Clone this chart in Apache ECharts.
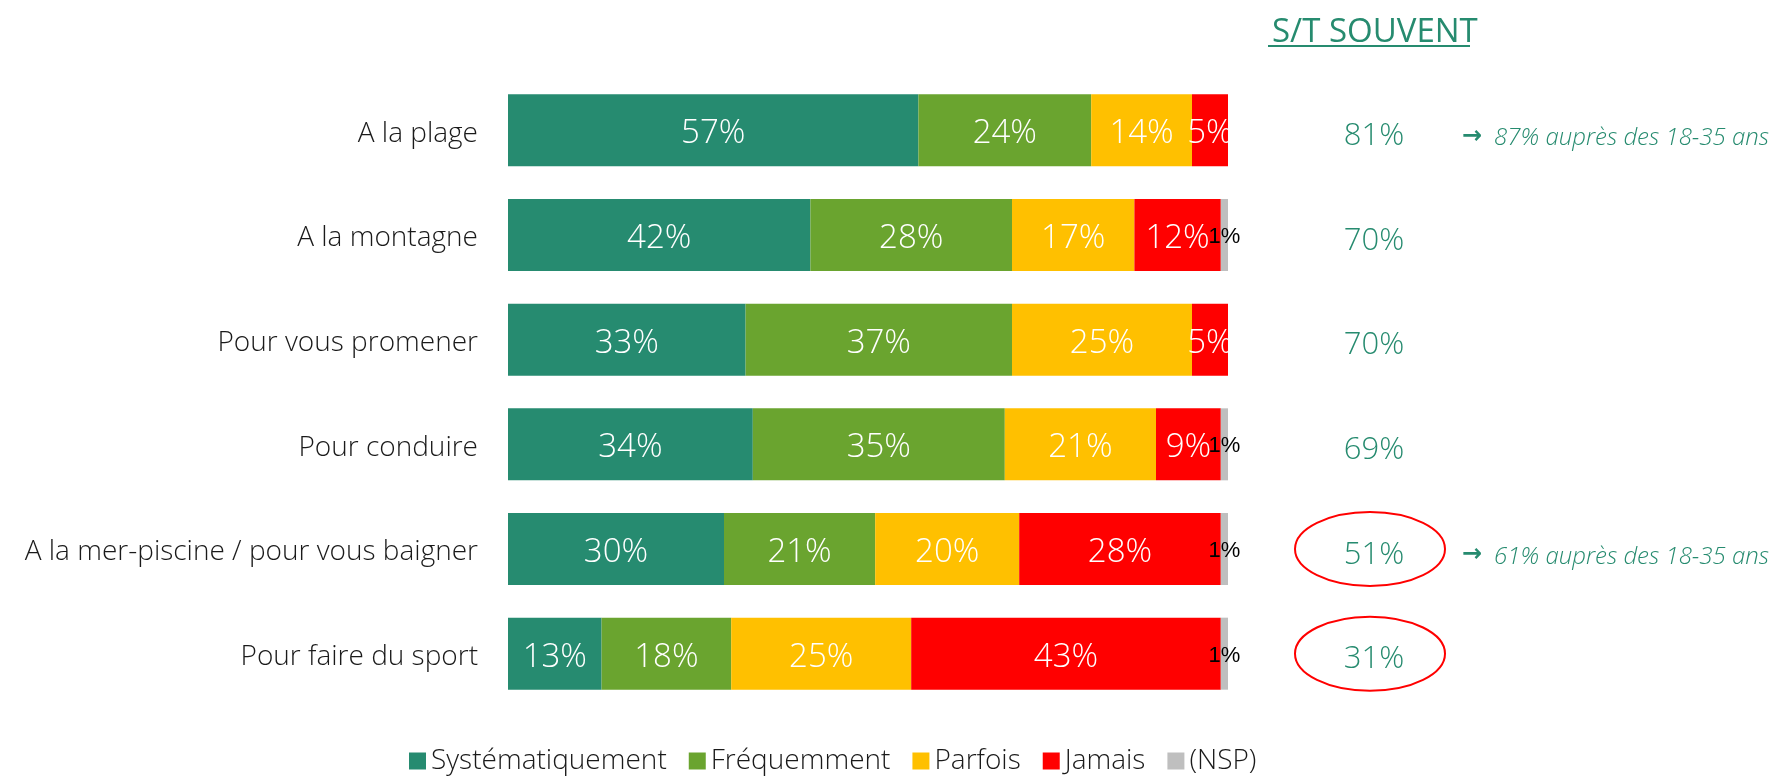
<!DOCTYPE html>
<html>
<head>
<meta charset="utf-8">
<script src="https://cdn.jsdelivr.net/npm/echarts@6/dist/echarts.min.js"></script>
<style>
  html, body { margin: 0; padding: 0; background: #fff; }
  #chart { width: 1791px; height: 776px; }
</style>
</head>
<body>
<div id="chart"></div>
<script>
var categories = ['A la plage', 'A la montagne', 'Pour vous promener', 'Pour conduire', 'A la mer-piscine / pour vous baigner', 'Pour faire du sport'];
var systematiquement = [57, 42, 33, 34, 30, 13];
var frequemment = [24, 28, 37, 35, 21, 18];
var parfois = [14, 17, 25, 21, 20, 25];
var jamais = [5, 12, 5, 9, 28, 43];
var nsp = [0, 1, 0, 1, 1, 1];
// S/T souvent
var totals = [81, 70, 70, 69, 51, 31];
var notes = ['87% auprès des 18-35 ans', '', '', '', '61% auprès des 18-35 ans', ''];
var circled = [false, false, false, false, true, true];

var teal = '#268b6f';
var font = '"Open Sans", "Noto Sans", sans-serif';

var chart = echarts.init(document.getElementById('chart'));

function barSeries (name, data, color, t) {
  return {
    name: name,
    type: 'bar',
    stack: 'total',
    data: data,
    barWidth: 72,
    itemStyle: { color: color },
    label: {
      show: true,
      position: 'inside',
      formatter: function (p) {
        return p.value > 0 ? '{t|' + p.value + '%}' : '';
      },
      rich: {
        t: Object.assign({
          color: '#fff',
          fontFamily: font,
          fontWeight: 300,
          fontSize: 33,
          padding: [7, 0, 0, 0]
        }, t || {})
      }
    }
  };
}

var option = {
  animation: false,
  title: {
    text: 'S/T SOUVENT',
    left: 1267,
    top: 11,
    textStyle: { color: teal, fontFamily: font, fontWeight: 400, fontSize: 33 }
  },
  legend: {
    bottom: -4,
    left: 404,
    itemWidth: 17,
    itemHeight: 17,
    itemGap: 22,
    icon: 'rect',
    textStyle: { fontFamily: font, fontWeight: 300, fontSize: 28, color: '#1a1a1a' },
    data: ['Systématiquement', 'Fréquemment', 'Parfois', 'Jamais', '(NSP)']
  },
  grid: { left: 508, right: 563, top: 78, bottom: 70 },
  xAxis: { type: 'value', min: 0, max: 100, show: false },
  yAxis: [{
    type: 'category',
    inverse: true,
    data: categories,
    axisLine: { show: false },
    axisTick: { show: false },
    axisLabel: {
      margin: 30,
      formatter: function (value) {
        return '{c|' + value + '}';
      },
      rich: {
        c: { color: '#1a1a1a', fontFamily: font, fontWeight: 300, fontSize: 28, padding: [7, 0, 0, 0] }
      }
    }
  }, {
    type: 'category',
    inverse: true,
    position: 'right',
    data: categories,
    axisLine: { show: false },
    axisTick: { show: false },
    axisLabel: {
      margin: 96,
      align: 'left',
      formatter: function (value, i) {
        var s = '{v|' + totals[i] + '%}';
        if (notes[i]) s += '{a|→}{n|' + notes[i] + '}';
        return s;
      },
      rich: {
        v: { width: 100, align: 'center', color: teal, fontFamily: font, fontWeight: 300, fontSize: 31, padding: [12, 0, 0, 0] },
        a: { color: teal, fontSize: 24, fontWeight: 'bold', padding: [12, 0, 0, 38], fontFamily: 'DejaVu Sans' },
        n: { color: teal, fontStyle: 'italic', fontFamily: font, fontWeight: 300, fontSize: 24, padding: [16, 0, 0, 12] }
      }
    }
  }],
  series: [
    barSeries('Systématiquement', systematiquement, '#268b70'),
    barSeries('Fréquemment', frequemment, '#6aa42f'),
    barSeries('Parfois', parfois, '#ffc000'),
    barSeries('Jamais', jamais, '#ff0000'),
    barSeries('(NSP)', nsp, '#bfbfbf', { color: '#000', fontSize: 22, fontWeight: 400, fontFamily: '"Liberation Sans Narrow", "Liberation Sans", sans-serif', padding: [4, 0, 0, 0] })
  ]
};
chart.setOption(option);

// underline of the title + circles around selected totals
var graphics = [{
  type: 'rect',
  shape: { x: 1268, y: 45, width: 202, height: 2 },
  style: { fill: teal }
}];
circled.forEach(function (c, i) {
  if (!c) return;
  var cy = chart.convertToPixel({ yAxisIndex: 0 }, categories[i]);
  graphics.push({
    type: 'ellipse',
    shape: { cx: 1370, cy: cy, rx: 75, ry: 37 },
    style: { fill: 'none', stroke: '#ff0000', lineWidth: 2 }
  });
});
chart.setOption({ graphic: graphics });
</script>
</body>
</html>
